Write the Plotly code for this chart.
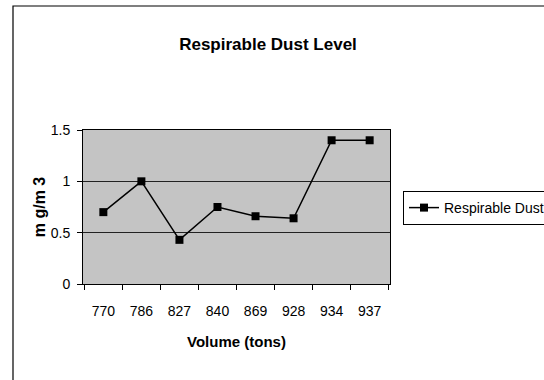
import plotly.graph_objects as go

volumes = ["770", "786", "827", "840", "869", "928", "934", "937"]
dust = [0.70, 1.00, 0.43, 0.75, 0.66, 0.64, 1.40, 1.40]

fig = go.Figure()
fig.add_trace(go.Scatter(
    x=volumes, y=dust, mode="lines+markers", name="Respirable Dust",
    line=dict(color="black", width=1.5),
    marker=dict(symbol="square", size=8, color="black"),
))

W, H = 544, 380
L, R, T, B = 83, 154, 130, 96
pw = W - L - R
ph = H - T - B

def px_x(x):
    return (x - L) / pw

def px_y(y):
    return (H - B - y) / ph

font = "Liberation Sans, Arial, sans-serif"
fig.update_layout(
    width=W, height=H,
    margin=dict(l=L, r=R, t=T, b=B, autoexpand=False),
    paper_bgcolor="white",
    plot_bgcolor="#c4c4c4",
    font=dict(family=font, color="black", size=14),
    title=dict(text="<b>Respirable Dust Level</b>", x=268 / W, xanchor="center",
               y=1 - 44 / H, yanchor="middle", font=dict(size=17)),
    showlegend=True,
    legend=dict(x=px_x(403), y=px_y(191), xanchor="left", yanchor="top",
                bordercolor="black", borderwidth=1, bgcolor="white",
                itemwidth=30, font=dict(size=14)),
    xaxis=dict(type="category", showgrid=False, ticks="outside", tickson="boundaries",
               ticklen=5, tickcolor="black", showline=True, linecolor="black", mirror=True,
               ticklabelstandoff=14,
               title=dict(text="<b>Volume (tons)</b>", font=dict(size=15), standoff=18),
               tickfont=dict(size=14)),
    yaxis=dict(range=[0, 1.5], tickvals=[0, 0.5, 1, 1.5], ticktext=["0", "0.5", "1", "1.5"],
               showgrid=True, gridcolor="#222", gridwidth=1, zeroline=False,
               ticks="outside", ticklen=5, tickcolor="black",
               showline=True, linecolor="black", mirror=True,
               ticklabelstandoff=4,
               title=dict(text="<b>m g/m 3</b>", font=dict(size=16), standoff=1),
               tickfont=dict(size=14)),
    shapes=[dict(type="rect", xref="paper", yref="paper",
                 x0=px_x(13), x1=px_x(600), y0=px_y(420), y1=px_y(6),
                 line=dict(color="black", width=1.2), fillcolor="rgba(0,0,0,0)", layer="below")],
)

fig.write_html("out.html")
